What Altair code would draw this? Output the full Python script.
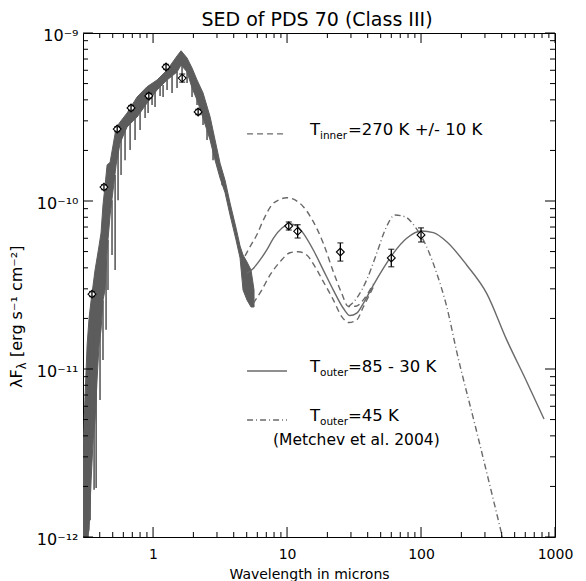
import math
import altair as alt
import pandas as pd

FONT = "DejaVu Sans"
BAND = "#5c5c5c"
LINE = "#6a6a6a"

# ---------------- data ----------------
# stellar photosphere band (upper / lower envelope)
band_wl = [0.300, 0.311, 0.322, 0.333, 0.345, 0.357, 0.369, 0.382, 0.395, 0.409, 0.423, 0.438, 0.454,
           0.478, 0.503, 0.530, 0.567, 0.640, 0.760, 0.902, 1.071, 1.272, 1.510, 1.618, 1.794, 1.954,
           2.130, 2.361, 2.663, 2.902, 3.162, 3.446, 3.755, 4.163, 4.460, 4.695, 5.030, 5.386, 5.671]
band_hi = [3.08e-12, 7.00e-12, 1.39e-11, 2.01e-11, 2.57e-11, 3.16e-11, 3.88e-11, 4.58e-11, 5.40e-11,
           6.45e-11, 9.47e-11, 1.23e-10, 1.64e-10, 1.70e-10, 2.15e-10, 2.72e-10, 2.95e-10, 3.34e-10,
           4.16e-10, 4.79e-10, 5.25e-10, 6.02e-10, 7.30e-10, 7.84e-10, 7.10e-10, 6.19e-10, 5.25e-10,
           4.40e-10, 3.18e-10, 2.31e-10, 1.68e-10, 1.33e-10, 9.73e-11, 6.91e-11, 5.40e-11, 4.77e-11,
           4.33e-11, 3.88e-11, 2.95e-11]
band_lo = [1.0e-12, 1.0e-12, 1.0e-12, 1.10e-12, 2.18e-12, 3.78e-12, 4.97e-12, 8.60e-12, 1.39e-11,
           1.71e-11, 2.57e-11, 2.95e-11, 5.11e-11, 8.25e-11, 1.16e-10, 1.64e-10, 2.21e-10, 2.76e-10,
           3.16e-10, 3.83e-10, 4.58e-10, 5.25e-10, 5.86e-10, 6.45e-10, 5.86e-10, 4.71e-10, 3.99e-10,
           3.12e-10, 2.31e-10, 1.75e-10, 1.37e-10, 1.12e-10, 8.25e-11, 5.86e-11, 4.58e-11, 2.95e-11,
           2.57e-11, 2.34e-11, 2.34e-11]

# absorption spikes in the photosphere
spike_wl = [0.316, 0.327, 0.339, 0.363, 0.376, 0.402, 0.423, 0.446, 0.461, 0.494, 0.521, 0.548, 0.577,
            0.618, 0.674, 0.734, 0.800, 0.872, 0.918, 0.983, 1.035, 1.128, 1.188, 1.272, 1.386, 1.510,
            1.646, 1.794, 1.954, 2.130, 2.361, 2.529, 2.804, 3.273]
spike_top = [6.54e-12, 8.60e-12, 1.30e-11, 1.71e-11, 1.96e-11, 1.71e-11, 2.57e-11, 4.46e-11, 5.86e-11,
             1.01e-10, 1.43e-10, 2.01e-10, 2.31e-10, 2.72e-10, 3.03e-10, 3.25e-10, 3.58e-10, 3.78e-10,
             3.99e-10, 4.28e-10, 4.58e-10, 4.77e-10, 4.90e-10, 5.25e-10, 5.55e-10, 5.86e-10, 6.45e-10,
             6.02e-10, 4.90e-10, 4.16e-10, 3.25e-10, 2.65e-10, 2.01e-10, 1.43e-10]
spike_bot = [1.0e-12, 1.0e-12, 1.26e-12, 1.91e-12, 1.96e-12, 6.54e-12, 1.13e-11, 1.71e-11, 2.95e-11,
             4.77e-11, 3.88e-11, 1.01e-10, 1.43e-10, 1.75e-10, 2.01e-10, 2.31e-10, 2.65e-10, 3.12e-10,
             3.34e-10, 3.73e-10, 3.63e-10, 4.22e-10, 4.16e-10, 4.58e-10, 4.40e-10, 4.71e-10, 5.25e-10,
             5.04e-10, 4.16e-10, 3.73e-10, 2.83e-10, 2.31e-10, 1.75e-10, 1.24e-10]

# model: T_outer = 85 - 30 K (solid)
solid_wl = [5.00, 5.60, 6.29, 7.06, 7.90, 9.13, 10.53, 11.81, 13.23, 15.71, 18.66, 22.16, 26.3, 29.5,
            33.1, 37.1, 44.1, 52.3, 62.1, 78.2, 101, 123.6, 155.6, 219, 309, 436, 597, 828]
solid_f = [3.71e-11, 3.97e-11, 4.46e-11, 5.11e-11, 6.00e-11, 6.88e-11, 7.30e-11, 7.10e-11, 6.42e-11,
           5.11e-11, 3.88e-11, 2.95e-11, 2.30e-11, 2.08e-11, 2.15e-11, 2.46e-11, 3.16e-11, 3.97e-11,
           4.88e-11, 6.00e-11, 6.63e-11, 6.48e-11, 5.72e-11, 4.16e-11, 2.82e-11, 1.49e-11, 8.84e-12,
           5.04e-12]

# model: T_inner = 280 K (upper dashed)
inhi_wl = [4.86, 5.30, 5.94, 6.66, 7.69, 8.87, 9.95, 11.47, 13.23, 15.71, 18.66, 22.16, 25.6, 28.7,
           33.1, 37.1, 44.1]
inhi_f = [4.71e-11, 5.35e-11, 6.27e-11, 7.71e-11, 9.47e-11, 1.023e-10, 1.046e-10, 1.014e-10, 9.25e-11,
          7.53e-11, 5.60e-11, 3.79e-11, 2.82e-11, 2.35e-11, 2.37e-11, 2.58e-11, 3.21e-11]

# model: T_inner = 260 K (lower dashed)
inlo_wl = [5.60, 6.47, 7.47, 8.87, 10.53, 12.14, 14.03, 16.18, 18.66, 22.16, 25.6, 29.0, 33.1, 37.1, 44.1]
inlo_f = [2.46e-11, 2.95e-11, 3.63e-11, 4.35e-11, 4.92e-11, 4.99e-11, 4.77e-11, 4.06e-11, 3.31e-11,
          2.58e-11, 2.05e-11, 1.89e-11, 1.96e-11, 2.34e-11, 3.08e-11]

# model: T_outer = 45 K (Metchev et al. 2004, dash-dot)
met_wl = [28.7, 33.1, 39.3, 46.7, 53.9, 64.0, 76.0, 90.2, 110, 131, 155.6, 185, 253, 405]
met_f = [2.35e-11, 2.64e-11, 3.39e-11, 4.88e-11, 6.72e-11, 8.25e-11, 8.06e-11, 7.03e-11, 5.35e-11,
         3.71e-11, 2.35e-11, 1.26e-11, 4.64e-12, 1.0e-12]

# photometry
obs_wl = [0.35, 0.43, 0.54, 0.685, 0.93, 1.25, 1.65, 2.17, 10.3, 12, 25, 60, 100]
obs_f = [2.79e-11, 1.21e-10, 2.68e-10, 3.58e-10, 4.22e-10, 6.28e-10, 5.39e-10, 3.39e-10,
         7.1e-11, 6.6e-11, 4.97e-11, 4.58e-11, 6.28e-11]
obs_hi = [2.89e-11, 1.25e-10, 2.77e-10, 3.70e-10, 4.37e-10, 6.50e-10, 5.70e-10, 3.51e-10,
          7.5e-11, 7.23e-11, 5.63e-11, 5.16e-11, 6.92e-11]
obs_lo = [2.70e-11, 1.17e-10, 2.59e-10, 3.46e-10, 4.08e-10, 6.07e-10, 5.10e-10, 3.27e-10,
          6.72e-11, 6.02e-11, 4.39e-11, 4.06e-11, 5.70e-11]

# axis ticks and labels
x_major = [1, 10, 100, 1000]
x_labels = ["1", "10", "100", "1000"]
x_minor = [0.4, 0.5, 0.6, 0.7, 0.8, 0.9, 2, 3, 4, 5, 6, 7, 8, 9,
           20, 30, 40, 50, 60, 70, 80, 90, 200, 300, 400, 500, 600, 700, 800, 900]
y_major = [1e-12, 1e-11, 1e-10, 1e-9]
y_labels = ["10⁻¹²", "10⁻¹¹", "10⁻¹⁰", "10⁻⁹"]
y_minor_mult = [2, 3, 4, 5, 6, 7, 8, 9]
y_decades = [1e-12, 1e-11, 1e-10]
y_minor = [m * d for d in y_decades for m in y_minor_mult]

TITLE = "SED of PDS 70 (Class III)"
XTITLE = "Wavelength in microns"

# ---------------- chart ----------------
W, H = 472, 504

xscale = alt.Scale(type="log", domain=[0.3, 1000], nice=False)
yscale = alt.Scale(type="log", domain=[1e-12, 1e-9], nice=False)


def label_expr(vals, labels):
    e = ""
    for v, l in zip(vals, labels):
        e += f"abs(log(datum.value)/LN10 - ({math.log10(v):.4f})) < 0.01 ? '{l}' : "
    return e + "''"


xaxis = alt.Axis(values=x_major, labelExpr=label_expr(x_major, x_labels), ticks=False, domain=False,
                 grid=False, labelFont=FONT, labelFontSize=14, labelColor="black", labelPadding=10,
                 labelFlush=False, labelOverlap=False,
                 title=XTITLE, titleFont=FONT, titleFontSize=14, titleFontWeight="normal",
                 titleColor="black", titleX=226, titleY=30, titleBaseline="top", titleAlign="center")
yaxis = alt.Axis(values=y_major, labelExpr=label_expr(y_major, y_labels), ticks=False, domain=False,
                 grid=False, labelFont=FONT, labelFontSize=16, labelColor="black", labelPadding=5,
                 labelFlush=False, labelOverlap=False, labelOffset=2, title=None)


def X(f):
    return alt.X(f, type="quantitative", scale=xscale, axis=xaxis)


def Y(f):
    return alt.Y(f, type="quantitative", scale=yscale, axis=yaxis)


layers = []

band = pd.DataFrame({"wl": band_wl, "hi": band_hi, "lo": band_lo})
layers.append(alt.Chart(band).mark_area(color=BAND, stroke=BAND, strokeWidth=1, clip=True)
              .encode(x=X("wl"), y=Y("hi"), y2=alt.Y2("lo")))

spk = pd.DataFrame({"wl": spike_wl, "top": spike_top, "bot": spike_bot})
layers.append(alt.Chart(spk).mark_rule(color=BAND, strokeWidth=1.6, clip=True)
              .encode(x=X("wl"), y=Y("top"), y2=alt.Y2("bot")))


def model(wl, f, dash=None):
    kw = dict(color=LINE, strokeWidth=1.4, interpolate="monotone", clip=True)
    if dash:
        kw["strokeDash"] = dash
    return alt.Chart(pd.DataFrame({"wl": wl, "f": f})).mark_line(**kw).encode(x=X("wl"), y=Y("f"))


layers.append(model(inhi_wl, inhi_f, [6, 4]))
layers.append(model(inlo_wl, inlo_f, [6, 4]))
layers.append(model(met_wl, met_f, [6, 3, 1, 3]))
layers.append(model(solid_wl, solid_f))

obs = pd.DataFrame({"wl": obs_wl, "f": obs_f, "hi": obs_hi, "lo": obs_lo})
layers.append(alt.Chart(obs).mark_point(shape="diamond", size=62, fill="white", fillOpacity=1,
                                        stroke="black", strokeWidth=1.1, opacity=1)
              .encode(x=X("wl"), y=Y("f")))
layers.append(alt.Chart(obs).mark_rule(color="black", strokeWidth=1.3).encode(x=X("wl"), y=Y("lo"), y2=alt.Y2("hi")))
layers.append(alt.Chart(obs).mark_tick(color="black", orient="horizontal", size=6, thickness=1.3)
              .encode(x=X("wl"), y=Y("hi")))
layers.append(alt.Chart(obs).mark_tick(color="black", orient="horizontal", size=6, thickness=1.3)
              .encode(x=X("wl"), y=Y("lo")))


# inward frame ticks
def xticks(vals, y0, y1):
    return (alt.Chart(pd.DataFrame({"v": vals})).mark_rule(color="black", strokeWidth=1)
            .encode(x=X("v"), y=alt.value(y0), y2=alt.value(y1)))


def yticks(vals, x0, x1):
    return (alt.Chart(pd.DataFrame({"v": vals})).mark_rule(color="black", strokeWidth=1)
            .encode(y=Y("v"), x=alt.value(x0), x2=alt.value(x1)))


layers += [xticks(x_major, H, H - 10), xticks(x_major, 0, 10),
           xticks(x_minor, H, H - 5), xticks(x_minor, 0, 5),
           yticks(y_major, 0, 10), yticks(y_major, W, W - 10),
           yticks(y_minor, 0, 5), yticks(y_minor, W, W - 5)]


# legend samples
def sample(f, dash=None):
    return model([5.03, 10.0], [f, f], dash)


layers.append(sample(2.51e-10, [6, 4]))
layers.append(sample(9.73e-12))
layers.append(sample(4.97e-12, [6, 3, 1, 3]))


def txt(wl, f, s, size, dx=0, dy=0):
    return (alt.Chart(pd.DataFrame({"wl": [wl], "f": [f], "s": [s]}))
            .mark_text(align="left", baseline="alphabetic", dx=dx, dy=dy, fontSize=size, font=FONT,
                       color="black")
            .encode(x=X("wl"), y=Y("f"), text="s:N"))


LX = 14.85
for f, sub, rest in [(2.47e-10, "inner", "=270 K +/- 10 K"),
                     (9.60e-12, "outer", "=85 - 30 K"),
                     (4.90e-12, "outer", "=45 K")]:
    layers.append(txt(LX, f, "T", 16.5))
    layers.append(txt(LX, f, sub, 10.5, dx=10, dy=4))
    layers.append(txt(LX, f, rest, 16.5, dx=10 + 28))
layers.append(txt(7.86, 3.53e-12, "(Metchev et al. 2004)", 15.5))

# title
layers.append(alt.Chart(pd.DataFrame({"s": [TITLE]}))
              .mark_text(align="center", baseline="alphabetic", fontSize=19, font=FONT, color="black")
              .encode(x=alt.value(234), y=alt.value(-7), text="s:N"))

# y-axis title with subscript
for s, size, dx, dy in [("λF", 16, 0, 0), ("λ", 11.5, 18.7, 4), ("[erg s⁻¹ cm⁻²]", 16, 31, 0)]:
    layers.append(alt.Chart(pd.DataFrame({"s": [s]}))
                  .mark_text(align="left", baseline="alphabetic", angle=270, fontSize=size, font=FONT,
                             color="black", dx=dx, dy=dy)
                  .encode(x=alt.value(-61), y=alt.value(355), text="s:N"))

chart = (alt.layer(*layers)
         .properties(width=W, height=H, background="white",
                     padding={"left": 83, "top": 33, "right": 31, "bottom": 44},
                     autosize=alt.AutoSizeParams(type="none"))
         .configure_view(stroke="black", strokeWidth=1))

chart.save("out.html", embed_options={"renderer": "svg", "actions": False})
